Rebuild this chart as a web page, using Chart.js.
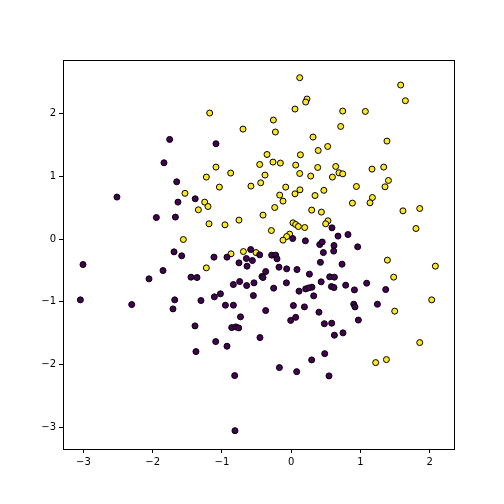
<!DOCTYPE html>
<html>
<head>
<meta charset="utf-8">
<script src="https://cdn.jsdelivr.net/npm/chart.js@4/dist/chart.umd.min.js"></script>
<style>
  html, body { margin: 0; padding: 0; background: #fff; }
  #c { display: block; }
</style>
</head>
<body>
<canvas id="c" width="504" height="504"></canvas>
<script>
// class 0 (purple) points
const purpleX = [-1.755, -1.837, -1.653, -1.086, -2.516, -1.635, -1.386, -1.947, -1.672, -1.692,
  -1.581, -3.006, -1.851, -2.053, -1.447, -3.044, -2.303, -1.682, -1.707, 0.022,
  0.205, 0.412, 0.448, 0.465, -0.585, -0.455, -1.115, -0.927, -0.754, -0.647,
  -0.560, -0.638, -0.282, -0.224, -0.205, 0.422, -0.368, -0.176, -0.065, 0.084,
  -0.422, -0.407, -1.360, 0.263, -0.744, -0.835, -0.643, -0.537, -0.069, -0.253,
  0.300, 0.209, 0.253, 0.113, 0.433, -1.022, -1.109, -0.546, 0.325, -1.303,
  -0.950, -0.835, 0.032, 0.191, -0.368, 0.401, -0.732, 0.065, -0.007, 0.589,
  0.676, 0.820, 0.618, 0.614, 0.960, 0.734, 0.556, 0.624, 0.581, 0.618,
  0.787, 1.090, 0.913, 1.365, 0.903, 0.921, 1.245, 0.970, 0.479, 0.585,
  -1.389, -0.859, -0.801, -0.758, -1.090, -0.927, -0.451, -1.375, 0.484, 0.296,
  -0.170, 0.079, -0.816, -0.812, 0.624, 0.748, 0.546];
const purpleY = [1.589, 1.217, 0.914, 1.520, 0.670, 0.590, 0.643, 0.344, 0.351, -0.203,
  -0.266, -0.405, -0.501, -0.633, -0.606, -0.968, -1.043, -0.968, -1.112, 0.010,
  -0.027, -0.086, -0.046, -0.214, -0.166, -0.250, -0.287, -0.287, -0.378, -0.309,
  -0.341, -0.431, -0.255, -0.255, -0.314, -0.370, -0.517, -0.447, -0.474, -0.485,
  -0.596, -0.612, -0.612, -0.558, -0.676, -0.724, -0.740, -0.697, -0.697, -0.781,
  -0.766, -0.793, -0.777, -0.829, -0.681, -0.872, -0.920, -0.900, -0.904, -0.979,
  -1.053, -1.053, -1.059, -1.080, -1.139, -1.164, -1.239, -1.247, -1.295, 0.180,
  0.048, 0.073, -0.102, -0.191, -0.123, -0.399, -0.601, -0.606, -0.756, -0.772,
  -0.734, -0.702, -0.809, -0.804, -1.037, -1.080, -1.037, -1.290, -1.348, -1.340,
  -1.383, -1.410, -1.399, -1.415, -1.633, -1.707, -1.569, -1.793, -1.825, -1.925,
  -2.048, -2.112, -2.175, -3.053, -1.531, -1.494, -2.180];

// class 1 (yellow) points
const yellowX = [0.123, 0.228, 0.209, -1.177, 0.055, -0.257, -0.696, -0.228, 0.315, -0.349,
  0.133, 0.390, -1.086, -0.455, -0.263, -0.156, 0.065, 0.383, -1.225, -0.874,
  -0.378, 0.123, 0.282, -1.037, -0.581, -0.440, -0.079, 0.127, 0.472, 1.581,
  1.649, 0.744, 1.071, 0.715, 1.383, 0.527, 0.643, 1.167, 1.336, 0.595,
  0.690, 0.744, 1.404, 0.942, 1.355, -1.534, -1.557, 0.055, -0.166, 0.344,
  -1.249, -1.201, -1.340, -0.118, -0.238, 0.296, 0.436, -0.407, -1.187, -0.956,
  -0.754, 0.026, 0.065, 0.104, 0.195, 0.531, 0.498, -0.286, -0.022, -0.065,
  -0.118, -0.690, -0.869, -0.508, -1.225, 1.173, 1.138, 0.884, 1.614, 1.856,
  1.802, 1.389, 2.082, 1.480, 2.029, 1.495, 1.856, 1.220, 1.375];
const yellowY = [2.573, 2.233, 2.185, 2.010, 2.073, 1.898, 1.754, 1.707, 1.627, 1.349,
  1.344, 1.413, 1.148, 1.190, 1.228, 1.212, 1.180, 1.142, 0.989, 1.053,
  1.021, 1.046, 1.005, 0.829, 0.845, 0.898, 0.829, 0.786, 0.778, 2.456,
  2.206, 2.041, 2.035, 1.796, 1.563, 1.477, 1.158, 1.116, 1.148, 0.989,
  1.057, 1.041, 0.935, 0.839, 0.834, 0.730, -0.006, 0.722, 0.702, 0.695,
  0.590, 0.520, 0.467, 0.606, 0.504, 0.463, 0.431, 0.383, 0.244, 0.228,
  0.303, 0.260, 0.233, 0.201, 0.185, 0.292, 0.244, 0.137, 0.080, 0.041,
  -0.016, -0.198, -0.234, -0.214, -0.458, 0.663, 0.579, 0.574, 0.451, 0.488,
  0.169, -0.335, -0.431, -0.606, -0.968, -1.148, -1.649, -1.968, -1.920];

const xTicks = [-3, -2, -1, 0, 1, 2];
const yTicks = [-3, -2, -1, 0, 1, 2];

const toPoints = (xs, ys) => xs.map((x, i) => ({ x, y: ys[i] }));
const fmt = v => String(v).replace('-', '\u2212');

// box round the plot area, like the matplotlib spines
const frame = {
  id: 'frame',
  afterDatasetsDraw(chart) {
    const { ctx, chartArea: a } = chart;
    ctx.save();
    ctx.strokeStyle = '#000';
    ctx.lineWidth = 1;
    ctx.strokeRect(Math.round(a.left) + 0.5, Math.round(a.top) + 0.5,
      Math.round(a.right - a.left), Math.round(a.bottom - a.top));
    ctx.restore();
  },
};

const bg = {
  id: 'bg',
  beforeDraw(chart) {
    const { ctx } = chart;
    ctx.save();
    ctx.fillStyle = '#fff';
    ctx.fillRect(0, 0, chart.width, chart.height);
    ctx.restore();
  },
};

const tickFont = { family: 'DejaVu Sans', size: 10 };

new Chart(document.getElementById('c'), {
  type: 'scatter',
  data: {
    datasets: [
      {
        label: '0',
        data: toPoints(purpleX, purpleY),
        backgroundColor: '#440154',
        borderColor: '#000',
        borderWidth: 1,
        pointRadius: 3,
      },
      {
        label: '1',
        data: toPoints(yellowX, yellowY),
        backgroundColor: '#fde725',
        borderColor: '#000',
        borderWidth: 1,
        pointRadius: 3,
      },
    ],
  },
  options: {
    responsive: false,
    animation: false,
    layout: { padding: { top: 60, right: 50, left: 0, bottom: 0 } },
    plugins: { legend: { display: false }, tooltip: { enabled: false } },
    scales: {
      x: {
        type: 'linear',
        min: -3.295,
        max: 2.351,
        afterBuildTicks: s => { s.ticks = xTicks.map(v => ({ value: v })); },
        afterFit: s => { s.height = 55; },
        grid: { drawOnChartArea: false, drawTicks: true, tickLength: 4, tickColor: '#000', color: '#000' },
        border: { display: false },
        ticks: { color: '#000', font: tickFont, padding: 3, maxRotation: 0, callback: fmt },
      },
      y: {
        type: 'linear',
        min: -3.345,
        max: 2.855,
        afterBuildTicks: s => { s.ticks = yTicks.map(v => ({ value: v })); },
        afterFit: s => { s.width = 63; },
        grid: { drawOnChartArea: false, drawTicks: true, tickLength: 4, tickColor: '#000', color: '#000' },
        border: { display: false },
        ticks: { color: '#000', font: tickFont, padding: 3, callback: fmt },
      },
    },
  },
  plugins: [bg, frame],
});
</script>
</body>
</html>
